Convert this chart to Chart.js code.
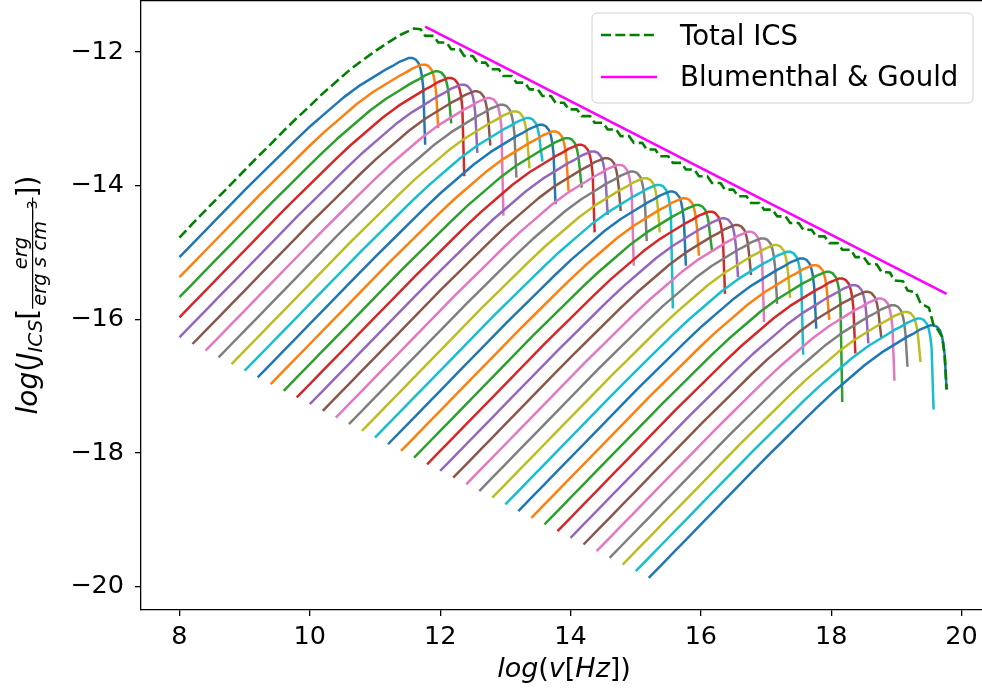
<!DOCTYPE html>
<html lang="en">
<head>
    <meta charset="UTF-8">
    <title>ICS spectra</title>
    <script src="https://cdn.jsdelivr.net/npm/chart.js"></script>
    <style>
        html, body { margin: 0; padding: 0; background: #fff; overflow: hidden; }
        #wrap { width: 982px; height: 693px; overflow: hidden; }
    </style>
</head>
<body>
<div id="wrap"><canvas id="icsChart" width="1000" height="693" style="width:1000px;height:693px"></canvas></div>
<script>
// one spectrum per electron energy: cutoff position, peak level, bottom of the cutoff drop
const cutoffX = [11.77, 11.97, 12.17, 12.37, 12.57, 12.77, 12.97, 13.17, 13.37, 13.57,
                 13.77, 13.97, 14.17, 14.37, 14.57, 14.77, 14.97, 15.17, 15.37, 15.57,
                 15.77, 15.97, 16.17, 16.37, 16.57, 16.77, 16.97, 17.17, 17.37, 17.57,
                 17.77, 17.97, 18.17, 18.37, 18.57, 18.77, 18.97, 19.17, 19.37, 19.57, 19.77];
const peakY = [-12.09, -12.19, -12.29, -12.39, -12.49, -12.59, -12.69, -12.79, -12.89, -12.99,
               -13.09, -13.19, -13.29, -13.39, -13.49, -13.59, -13.69, -13.79, -13.89, -13.99,
               -14.09, -14.19, -14.29, -14.39, -14.49, -14.59, -14.69, -14.79, -14.89, -14.99,
               -15.09, -15.19, -15.29, -15.39, -15.49, -15.59, -15.69, -15.79, -15.89, -15.99, -16.09];
const dropY = [-13.39, -13.14, -13.07, -13.86, -13.51, -13.40, -14.45, -13.88, -13.74, -13.64,
               -14.28, -14.08, -14.03, -14.70, -14.44, -14.38, -15.20, -14.83, -14.70, -15.84,
               -15.20, -15.05, -14.97, -15.62, -15.37, -15.34, -16.04, -15.77, -15.68, -16.53,
               -16.14, -16.01, -17.24, -16.51, -16.36, -16.29, -16.92, -16.71, -16.64, -17.35, -17.05];

// shape of one spectrum: offset from its cutoff (x) and from its peak (y)
const profileDx = [-4.57, -4.37, -4.17, -3.97, -3.77, -3.5, -3.0, -2.75, -2.5, -2.25, -2.0, -1.75, -1.5,
                   -1.25, -1.0, -0.9, -0.8, -0.7, -0.6, -0.5, -0.4, -0.3, -0.25, -0.2, -0.15, -0.1,
                   -0.07, -0.05, -0.03];
const profileDy = [-3.78, -3.58, -3.38, -3.18, -2.98, -2.71, -2.21, -1.96, -1.72, -1.48, -1.24, -1.01, -0.80,
                   -0.59, -0.41, -0.35, -0.29, -0.23, -0.17, -0.12, -0.06, -0.02, 0.00, 0.00, -0.02, -0.08,
                   -0.17, -0.27, -0.44];

// total ICS (green dashed)
const totalX = [8.0, 8.2, 8.4, 8.6, 8.8, 9.0, 9.2, 9.4, 9.6, 9.8, 10.0, 10.2, 10.4, 10.6, 10.8, 11.0, 11.2, 11.4, 11.6,
    11.70, 11.77, 11.90, 11.97, 12.10, 12.17, 12.30, 12.37, 12.50, 12.57,
    12.70, 12.77, 12.90, 12.97, 13.10, 13.17, 13.30, 13.37, 13.50, 13.57,
    13.70, 13.77, 13.90, 13.97, 14.10, 14.17, 14.30, 14.37, 14.50, 14.57,
    14.70, 14.77, 14.90, 14.97, 15.10, 15.17, 15.30, 15.37, 15.50, 15.57,
    15.70, 15.77, 15.90, 15.97, 16.10, 16.17, 16.30, 16.37, 16.50, 16.57,
    16.70, 16.77, 16.90, 16.97, 17.10, 17.17, 17.30, 17.37, 17.50, 17.57,
    17.70, 17.77, 17.90, 17.97, 18.10, 18.17, 18.30, 18.37, 18.50, 18.57,
    18.70, 18.77, 18.90, 18.97, 19.10, 19.17, 19.30, 19.37, 19.50, 19.57,
    19.60, 19.70, 19.74, 19.77];
const totalY = [-14.78, -14.57, -14.37, -14.17, -13.97, -13.77, -13.57, -13.38, -13.18, -12.99,
    -12.81, -12.62, -12.45, -12.28, -12.13, -11.99, -11.86, -11.74, -11.65,
    -11.66, -11.76, -11.76, -11.86, -11.86, -11.96, -11.96, -12.06, -12.06, -12.16,
    -12.16, -12.26, -12.26, -12.36, -12.36, -12.46, -12.46, -12.56, -12.56, -12.66,
    -12.66, -12.76, -12.76, -12.86, -12.86, -12.96, -12.96, -13.06, -13.06, -13.16,
    -13.16, -13.26, -13.26, -13.36, -13.36, -13.46, -13.46, -13.56, -13.56, -13.66,
    -13.66, -13.76, -13.76, -13.86, -13.86, -13.96, -13.96, -14.06, -14.06, -14.16,
    -14.16, -14.26, -14.26, -14.36, -14.36, -14.46, -14.46, -14.56, -14.56, -14.66,
    -14.66, -14.76, -14.76, -14.86, -14.86, -14.96, -14.96, -15.07, -15.07, -15.17,
    -15.18, -15.29, -15.30, -15.42, -15.43, -15.57, -15.60, -15.76, -15.83, -16.09,
    -16.10, -16.26, -16.53, -17.05];

// Blumenthal & Gould
const bgX = [11.77, 19.77];
const bgY = [-11.62, -15.62];

const xTicks = [8, 10, 12, 14, 16, 18, 20];
const yTicks = [-20, -18, -16, -14, -12];

const tab10 = ['#1f77b4', '#ff7f0e', '#2ca02c', '#d62728', '#9467bd',
               '#8c564b', '#e377c2', '#7f7f7f', '#bcbd22', '#17becf'];

const IT = s => 'italic ' + s + 'px "DejaVu Sans"';
const RM = s => s + 'px "DejaVu Sans"';

const datasets = cutoffX.map((cx, i) => {
    const pts = [];
    profileDx.forEach((dx, j) => {
        const x = +(cx + dx).toFixed(3);
        if (x >= 8) pts.push({ x: x, y: +(peakY[i] + profileDy[j]).toFixed(3) });
    });
    pts.push({ x: cx, y: dropY[i] });
    return {
        data: pts, borderColor: tab10[i % 10], borderWidth: 2.5,
        pointRadius: 0, fill: false, tension: 0, order: 200 - i
    };
});
datasets.push({
    label: 'Total ICS', data: totalX.map((x, k) => ({ x: x, y: totalY[k] })),
    borderColor: '#008000', borderWidth: 2.6, borderDash: [10, 4.3],
    pointRadius: 0, fill: false, order: 1
});
datasets.push({
    label: 'Blumenthal & Gould', data: bgX.map((x, k) => ({ x: x, y: bgY[k] })),
    borderColor: '#ff00ff', borderWidth: 2.6, pointRadius: 0, fill: false, order: 0
});

function runsWidth(ctx, runs) {
    let w = 0;
    runs.forEach(r => { ctx.font = r[1]; w += ctx.measureText(r[0]).width; });
    return w;
}
function drawRuns(ctx, runs, x, y) {
    runs.forEach(r => {
        ctx.font = r[1];
        ctx.fillText(r[0], x, y + (r[2] || 0));
        x += ctx.measureText(r[0]).width;
    });
    return x;
}

function drawXTitle(ctx, cx, base) {
    const runs = [['log', IT(27)], ['(', RM(27)], ['v', IT(27)], ['[', RM(27)],
                  ['Hz', IT(27)], [']', RM(27)], [')', RM(27)]];
    drawRuns(ctx, runs, cx - runsWidth(ctx, runs) / 2, base);
}

function drawYTitle(ctx, bx, cy) {
    const head = [['log', IT(28)], ['(', RM(28)], ['J', IT(28)], ['ICS', IT(20), 5], ['[', RM(28)]];
    const num = [['erg', IT(19.5)]];
    const den = [['erg s cm', IT(19.5)], ['\u22123', RM(14), -9]];
    const tail = [[']', RM(28)], [')', RM(28)]];
    const pad = 3;
    const wh = runsWidth(ctx, head), wn = runsWidth(ctx, num);
    const wd = runsWidth(ctx, den), wt = runsWidth(ctx, tail);
    const wf = Math.max(wn, wd) + 2 * pad;
    const total = wh + wf + wt;
    ctx.save();
    ctx.translate(bx, cy + total / 2);
    ctx.rotate(-Math.PI / 2);
    let x = drawRuns(ctx, head, 0, 0);
    drawRuns(ctx, num, x + (wf - wn) / 2, -10.5);
    drawRuns(ctx, den, x + (wf - wd) / 2, 9);
    ctx.fillRect(x, -5, wf, 1.2);
    x += wf;
    drawRuns(ctx, tail, x, 0);
    ctx.restore();
}

function drawLegend(ctx) {
    const x0 = 592, y0 = 13, w = 381, h = 90, r = 5;
    ctx.beginPath();
    ctx.moveTo(x0 + r, y0);
    ctx.arcTo(x0 + w, y0, x0 + w, y0 + h, r);
    ctx.arcTo(x0 + w, y0 + h, x0, y0 + h, r);
    ctx.arcTo(x0, y0 + h, x0, y0, r);
    ctx.arcTo(x0, y0, x0 + w, y0, r);
    ctx.closePath();
    ctx.fillStyle = 'rgba(255,255,255,0.8)';
    ctx.fill();
    ctx.strokeStyle = '#d0d0d0';
    ctx.lineWidth = 1;
    ctx.stroke();

    ctx.lineWidth = 2.6;
    ctx.strokeStyle = '#008000';
    ctx.setLineDash([10, 4.3]);
    ctx.beginPath(); ctx.moveTo(601, 35); ctx.lineTo(657, 35); ctx.stroke();
    ctx.setLineDash([]);
    ctx.strokeStyle = '#ff00ff';
    ctx.beginPath(); ctx.moveTo(601, 77); ctx.lineTo(657, 77); ctx.stroke();

    ctx.fillStyle = '#000';
    ctx.font = RM(27.6);
    ctx.fillText('Total ICS', 680, 45);
    ctx.fillText('Blumenthal & Gould', 680, 86);
}

const decor = {
    id: 'decor',
    afterDraw(chart) {
        const ctx = chart.ctx, a = chart.chartArea;
        ctx.save();
        ctx.strokeStyle = '#000';
        ctx.lineWidth = 1.3;
        ctx.beginPath();
        ctx.moveTo(a.left, a.top + 0.65);
        ctx.lineTo(a.right, a.top + 0.65);
        ctx.lineTo(a.right, a.bottom);
        ctx.stroke();
        ctx.fillStyle = '#000';
        ctx.textAlign = 'left';
        ctx.textBaseline = 'alphabetic';
        drawXTitle(ctx, (a.left + a.right) / 2, 677);
        drawYTitle(ctx, 37, 295);
        drawLegend(ctx);
        ctx.restore();
    }
};

const tickText = v => String(v).replace('-', '\u2212');

new Chart(document.getElementById('icsChart').getContext('2d'), {
    type: 'line',
    data: { datasets: datasets },
    options: {
        responsive: false,
        animation: false,
        devicePixelRatio: 1,
        layout: { padding: { left: 0, right: 13, top: 0, bottom: 0 } },
        plugins: { legend: { display: false }, tooltip: { enabled: false } },
        elements: { line: { borderJoinStyle: 'round', borderCapStyle: 'butt' } },
        scales: {
            x: {
                type: 'linear', min: 7.41, max: 20.39,
                afterFit(s) { s.height = 83; s.paddingLeft = 0; s.paddingRight = 0; },
                afterBuildTicks(s) { s.ticks = xTicks.map(v => ({ value: v })); },
                grid: { drawOnChartArea: false, tickLength: 6, color: '#000', lineWidth: 1.3 },
                border: { color: '#000', width: 1.3 },
                ticks: {
                    font: { family: 'DejaVu Sans', size: 25.5 }, color: '#000', padding: 6,
                    maxRotation: 0, autoSkip: false, callback: tickText
                }
            },
            y: {
                type: 'linear', min: -20.35, max: -11.223,
                afterFit(s) { s.width = 141; s.paddingTop = 0; s.paddingBottom = 0; },
                afterBuildTicks(s) { s.ticks = yTicks.map(v => ({ value: v })); },
                grid: { drawOnChartArea: false, tickLength: 6, color: '#000', lineWidth: 1.3 },
                border: { color: '#000', width: 1.3 },
                ticks: {
                    font: { family: 'DejaVu Sans', size: 25.5 }, color: '#000', padding: 11,
                    autoSkip: false, callback: tickText
                }
            }
        }
    },
    plugins: [decor]
});
</script>
</body>
</html>
